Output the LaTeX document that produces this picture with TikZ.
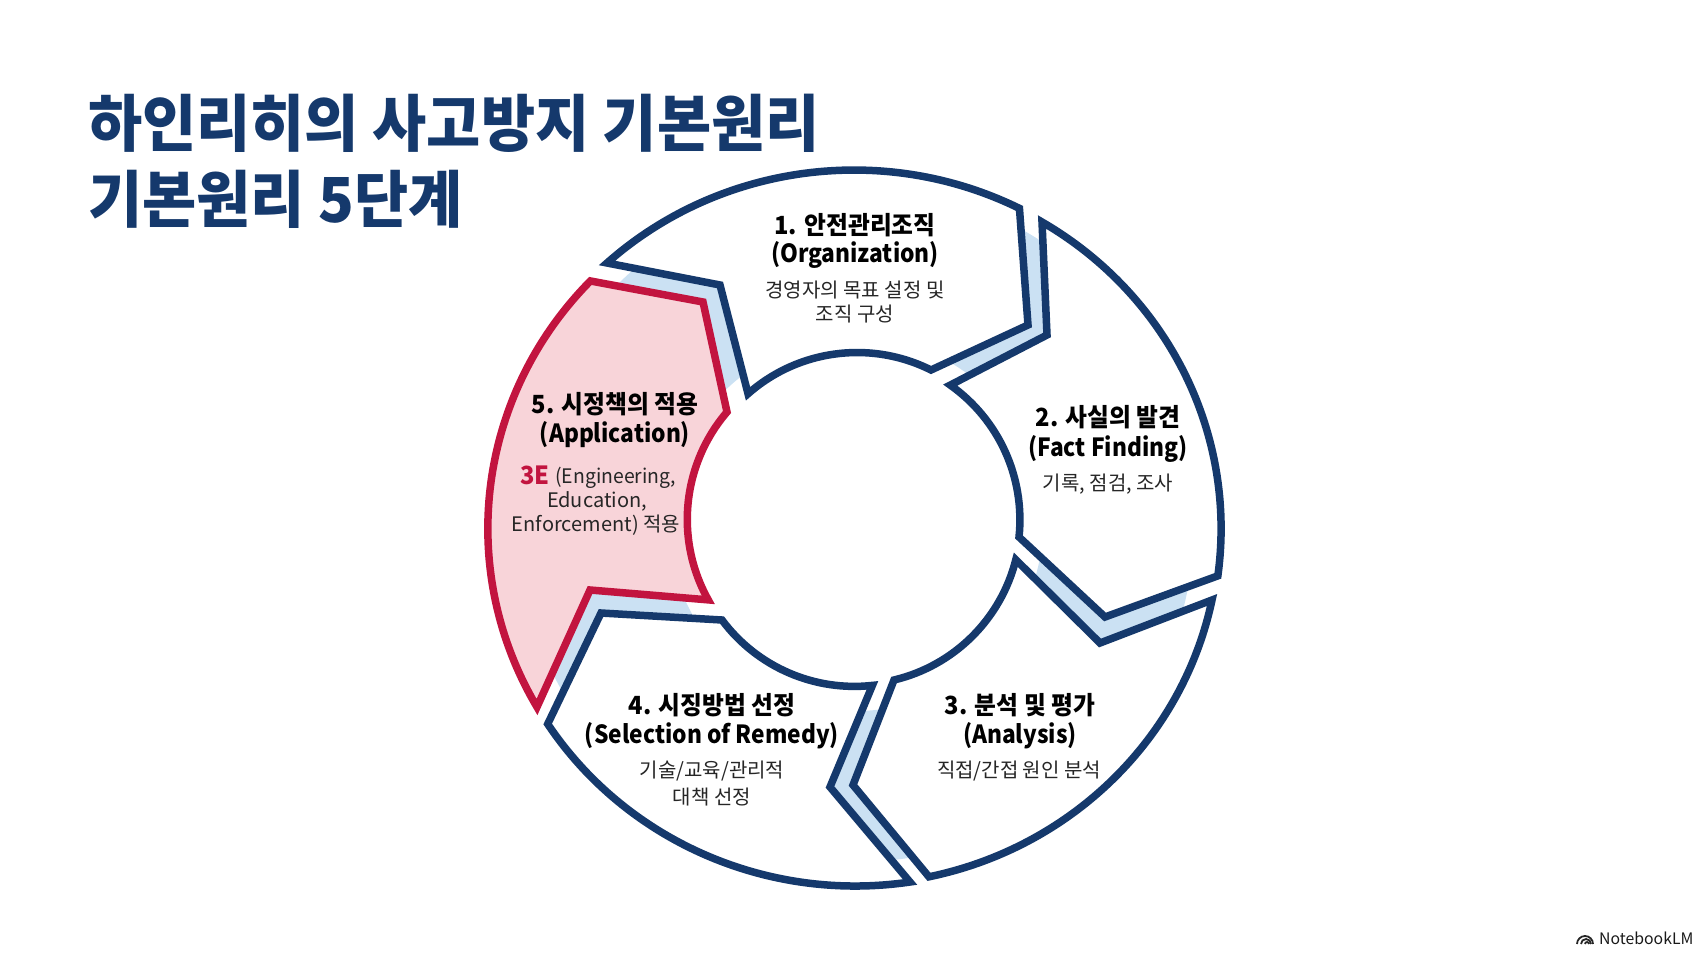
\documentclass[tikz,border=0pt]{standalone}
\usepackage{fontspec}
\setmainfont{Noto Sans CJK KR}
\definecolor{navy}{HTML}{15396C}
\definecolor{ringblue}{HTML}{CBE1F3}
\definecolor{alert}{HTML}{C2143F}
\definecolor{alertfill}{HTML}{F8D4D9}
\tikzset{
	stage/.style={draw=navy, line width=7.5pt, fill=white, miter limit=10},
	stagehot/.style={draw=alert, line width=7.5pt, fill=alertfill, miter limit=10},
	headtext/.style={anchor=center, inner sep=0pt, font=\fontsize{25}{25}\selectfont\bfseries\addfontfeatures{FakeStretch=0.95}, text=black},
	latintext/.style={anchor=center, inner sep=0pt, font=\fontsize{25}{25}\selectfont\bfseries\addfontfeatures{FakeStretch=0.91}, text=black},
	bodytext/.style={anchor=center, inner sep=0pt, font=\fontsize{20}{20}\selectfont, text=black!85},
	titletext/.style={anchor=west, inner sep=0pt, font=\fontsize{62}{62}\selectfont\bfseries\addfontfeatures{FakeStretch=0.95}, text=navy}
}
\begin{document}
\begin{tikzpicture}[x=1pt, y=-1pt]
	\useasboundingbox (0, 0) rectangle (1707, 960);
	\node[titletext](T1) at (88, 123){하인리히의 사고방지 기본원리};
	\node[titletext](T2) at (88, 199){기본원리 5단계};
	\fill[ringblue, even odd rule] (856, 524) circle[radius=338] (856, 524) circle[radius=187];
	\draw[stage] (607, 263) arc[start angle=-132.3, end angle=-63.2, x radius=367, y radius=357] -- (1028, 325) -- (931, 370) arc[start angle=-63.4, end angle=-131.4, radius=165] -- (720, 285) -- cycle;
	\draw[stage] (1042, 222) arc[start angle=-59.2, end angle=7.6, x radius=367, y radius=357] -- (1105, 617) -- (1019, 537) arc[start angle=6, end angle=-54.7, radius=165] -- (1047, 335) -- cycle;
	\draw[stage] (1212, 600) arc[start angle=11.7, end angle=78, x radius=367, y radius=357] -- (853, 785) -- (894, 680) arc[start angle=76.6, end angle=14.1, radius=165] -- (1100, 643) -- cycle;
	\draw[stage] (910, 882) arc[start angle=81.4, end angle=146.9, x radius=367, y radius=357] -- (601, 613) -- (722, 620) arc[start angle=143.3, end angle=83.7, radius=165] -- (830, 787) -- cycle;
	\draw[stagehot] (537, 707) arc[start angle=150, end angle=223.9, x radius=367, y radius=357] -- (703, 302) -- (727, 412) arc[start angle=220.6, end angle=150.8, radius=165] -- (590, 590) -- cycle;
	\node[headtext](N1) at (855, 225){1. 안전관리조직};
	\node[latintext](N1b) at (855, 255){(Organization)};
	\node[bodytext](N1c) at (855, 290){경영자의 목표 설정 및};
	\node[bodytext](N1d) at (855, 314){조직 구성};
	\node[headtext](N2) at (1108, 417){2. 사실의 발견};
	\node[latintext](N2b) at (1108, 449){(Fact Finding)};
	\node[bodytext](N2c) at (1108, 484){기록, 점검, 조사};
	\node[headtext](N3) at (1020, 705){3. 분석 및 평가};
	\node[latintext](N3b) at (1020, 736){(Analysis)};
	\node[bodytext](N3c) at (1019, 771){직접/간접 원인 분석};
	\node[headtext](N4) at (712, 705){4. 시징방법 선정};
	\node[latintext](N4b) at (712, 736){(Selection of Remedy)};
	\node[bodytext](N4c) at (712, 771){기술/교육/관리적};
	\node[bodytext](N4d) at (712, 797){대책 선정};
	\node[headtext](N5) at (615, 404){5. 시정책의 적용};
	\node[latintext](N5b) at (615, 435){(Application)};
	\node[bodytext, anchor=east, font=\fontsize{20}{20}\selectfont\addfontfeatures{FakeStretch=0.97}](N5c) at (676, 478){(Engineering,};
	\node[headtext, anchor=east, text=alert](N5d) at (550, 475){3E};
	\node[bodytext](N5e) at (597, 501){Education,};
	\node[bodytext](N5f) at (596, 525){Enforcement) 적용};
	% logo
	\draw[black!85, line width=1.8pt] (1577, 944) arc[start angle=180, end angle=360, radius=8];
	\draw[black!85, line width=1.8pt] (1581, 944) arc[start angle=180, end angle=360, radius=5];
	\draw[black!85, line width=1.8pt] (1585, 944) arc[start angle=180, end angle=360, radius=2];
	\node[anchor=west, inner sep=0pt, font=\fontsize{15.8}{15.8}\selectfont, text=black!90](L1) at (1599, 938){NotebookLM};
\end{tikzpicture}
\end{document}
